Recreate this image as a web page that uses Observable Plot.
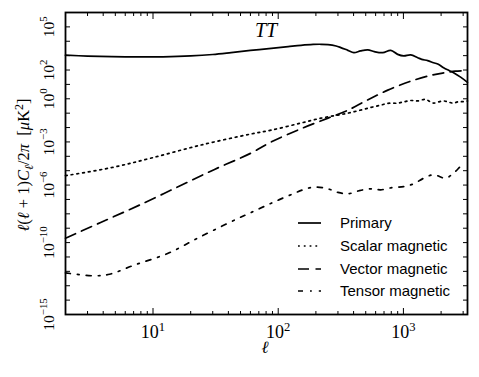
<!DOCTYPE html>
<html><head><meta charset="utf-8">
<script src="https://cdn.jsdelivr.net/npm/d3@7"></script>
<script src="https://cdn.jsdelivr.net/npm/@observablehq/plot@0.6"></script>
<style>
body{margin:0;background:#fff;}
#chart svg{display:block;}
</style></head><body><div id="chart"></div>
<script>
// ---- data ----
const primaryL = [2, 3, 4.7, 8, 12, 20, 30, 42, 60, 88, 120, 152, 190, 220, 250, 290, 316, 360, 402, 455, 520, 585, 684, 792, 900, 1005, 1143, 1300, 1400, 1563, 1742, 1900, 2094, 2300, 2516, 2862, 3250];
const primaryV = [1070, 930, 850, 810, 830, 955, 1200, 1620, 2290, 3240, 4270, 5250, 6030, 6170, 5890, 4680, 3630, 2340, 1620, 2140, 2510, 1900, 1620, 2340, 1230, 955, 1120, 720, 550, 450, 320, 250, 145, 95, 65, 32, 14];

const scalarL = [2, 4.7, 9.7, 24, 60, 88, 150, 220, 300, 360, 450, 550, 650, 750, 900, 1000, 1150, 1300, 1500, 1650, 1750, 1900, 2100, 2300, 2500, 2750, 3000, 3250];
const scalarV = [4.5e-6, 1.66e-5, 7.6e-5, 6.0e-4, 3.5e-3, 6.6e-3, 0.020, 0.045, 0.074, 0.10, 0.16, 0.25, 0.35, 0.48, 0.50, 0.60, 0.76, 0.71, 0.91, 0.60, 0.50, 0.60, 0.71, 0.58, 0.50, 0.63, 0.63, 0.71];

const vectorL = [2, 3.2, 4.7, 8, 16, 31, 60, 88, 150, 250, 360, 500, 750, 1150, 1650, 2100, 2600, 3250];
const vectorV = [2.0e-10, 1.26e-9, 5.6e-9, 4.5e-8, 7.9e-7, 1.23e-5, 1.6e-4, 1.0e-3, 7.9e-3, 0.045, 0.16, 0.71, 4.0, 17, 42, 63, 83, 89];

const tensorL = [2, 3.3, 4.5, 7.1, 13.2, 24, 48, 61, 88, 131, 158, 193, 249, 299, 360, 440, 548, 659, 822, 1005, 1208, 1452, 1742, 2172, 2516, 2862, 3000];
const tensorV = [7.9e-13, 4.9e-13, 6.3e-13, 2.75e-12, 1.8e-11, 2.6e-10, 4.9e-9, 1.26e-8, 5.5e-8, 2.45e-7, 4.7e-7, 7.2e-7, 5.5e-7, 3.1e-7, 2.45e-7, 4.0e-7, 5.5e-7, 4.7e-7, 6.8e-7, 7.9e-7, 1.23e-6, 3.0e-6, 5.2e-6, 3.0e-6, 6.8e-6, 2.0e-5, 2.8e-5];

const seriesNames = ["Primary", "Scalar magnetic", "Vector magnetic", "Tensor magnetic"];
const titleText = "TT";

const xMajorTicks = [10, 100, 1000];
const xMinorTicks = [2,3,4,5,6,7,8,9,20,30,40,50,60,70,80,90,200,300,400,500,600,700,800,900,2000,3000];
const yDecadeTicks = [1e-15,1e-14,1e-13,1e-12,1e-11,1e-10,1e-9,1e-8,1e-7,1e-6,1e-5,1e-4,1e-3,1e-2,1e-1,1,1e1,1e2,1e3,1e4,1e5,1e6];
const yLabelTicks = [1e5, 1e2, 1, 1e-3, 1e-6, 1e-10, 1e-15];

// ---- build ----
const dashes = [null, "1.8,4", "11,6.5", "5,7,1.8,7"];
const allL = [primaryL, scalarL, vectorL, tensorL];
const allV = [primaryV, scalarV, vectorV, tensorV];
const rows = allL.map((L, s) => L.map((l, i) => ({series: seriesNames[s], l, v: allV[s][i]})));

const serif = "'Liberation Serif', 'DejaVu Serif', serif";
const sans = "'Liberation Sans', 'DejaVu Sans', sans-serif";
const expFmt = d => "10^" + Math.round(Math.log10(d));

const lineMarks = rows.map((r, s) => Plot.line(r, {
  x: "l", y: "v", stroke: "#000", strokeWidth: 1.7, curve: "catmull-rom",
  strokeDasharray: dashes[s] ?? undefined
}));

const tickOpts = {fill: "none", label: null, strokeWidth: 1};
const plot = Plot.plot({
  width: 479, height: 377,
  marginLeft: 65, marginRight: 12, marginTop: 12, marginBottom: 63,
  style: {background: "#fff", color: "#000", fontFamily: serif, overflow: "visible"},
  x: {type: "log", domain: [2, 3250], label: null},
  y: {type: "log", domain: [1e-15, 1e6], label: null},
  marks: [
    ...lineMarks,
    Plot.axisX(xMinorTicks, {...tickOpts, anchor: "bottom", tickSize: -3}),
    Plot.axisX(xMinorTicks, {...tickOpts, anchor: "top", tickSize: -3}),
    Plot.axisX(xMajorTicks, {...tickOpts, anchor: "bottom", tickSize: -6}),
    Plot.axisX(xMajorTicks, {...tickOpts, anchor: "top", tickSize: -6}),
    Plot.axisY(yDecadeTicks, {...tickOpts, anchor: "left", tickSize: -5}),
    Plot.axisY(yDecadeTicks, {...tickOpts, anchor: "right", tickSize: -5}),
    Plot.axisX(xMajorTicks, {anchor: "bottom", tickSize: 0, tickPadding: 11, label: null, tickFormat: expFmt, fontSize: 18, fontFamily: serif}),
    Plot.axisY(yLabelTicks, {anchor: "left", tickSize: 0, tickPadding: 12, tickRotate: -90, label: null, tickFormat: expFmt, fontSize: 15.5, fontFamily: serif}),
    Plot.frame({stroke: "#000", strokeWidth: 1.8})
  ]
});
document.getElementById("chart").appendChild(plot);

const svg = d3.select(plot);
// superscript tick labels
svg.selectAll('g[aria-label="x-axis tick label"] text, g[aria-label="y-axis tick label"] text').each(function () {
  const s = this.textContent;
  const [b, e] = s.split("^");
  this.textContent = "";
  const t = d3.select(this);
  t.append("tspan").text(b);
  t.append("tspan").attr("dy", "-0.58em").attr("font-size", "0.7em").text(e.replace("-", "\u2212"));
});

// title
svg.append("text").attr("x", 266).attr("y", 37).attr("text-anchor", "middle")
  .attr("font-family", serif).attr("font-style", "italic").attr("font-size", 20).text(titleText);

// x label
svg.append("text").attr("x", 265).attr("y", 353).attr("text-anchor", "middle")
  .attr("font-family", serif).attr("font-style", "italic").attr("font-size", 17).text("\u2113");

// y label
const yl = svg.append("text").attr("transform", "translate(29,165) rotate(-90)")
  .attr("text-anchor", "middle").attr("font-family", serif).attr("font-size", 16.5);
const parts = [
  {t: "\u2113", i: 1}, {t: "("}, {t: "\u2113", i: 1}, {t: " + 1)"}, {t: "C", i: 1},
  {t: "\u2113", i: 1, sub: 1}, {t: "/2"}, {t: "\u03c0", i: 1}, {t: "\u2002["}, {t: "\u03bc", i: 1},
  {t: "K"}, {t: "2", sup: 1}, {t: "]"}
];
let shift = 0;
parts.forEach(p => {
  const ts = yl.append("tspan").text(p.t);
  if (p.i) ts.attr("font-style", "italic");
  let target = p.sub ? 4 : p.sup ? -6 : 0;
  if (target !== shift) { ts.attr("dy", target - shift); shift = target; }
  if (p.sub || p.sup) ts.attr("font-size", 12);
});

// legend
const legY = [223, 246, 269, 291];
const leg = svg.append("g");
seriesNames.forEach((name, i) => {
  const ln = leg.append("line").attr("x1", 298).attr("x2", 321).attr("y1", legY[i]).attr("y2", legY[i])
    .attr("stroke", "#000").attr("stroke-width", 1.7);
  if (dashes[i]) ln.attr("stroke-dasharray", dashes[i]);
  leg.append("text").attr("x", 340).attr("y", legY[i] + 5).attr("text-anchor", "start")
    .attr("font-family", sans).attr("font-size", 15).text(name);
});
</script></body></html>
